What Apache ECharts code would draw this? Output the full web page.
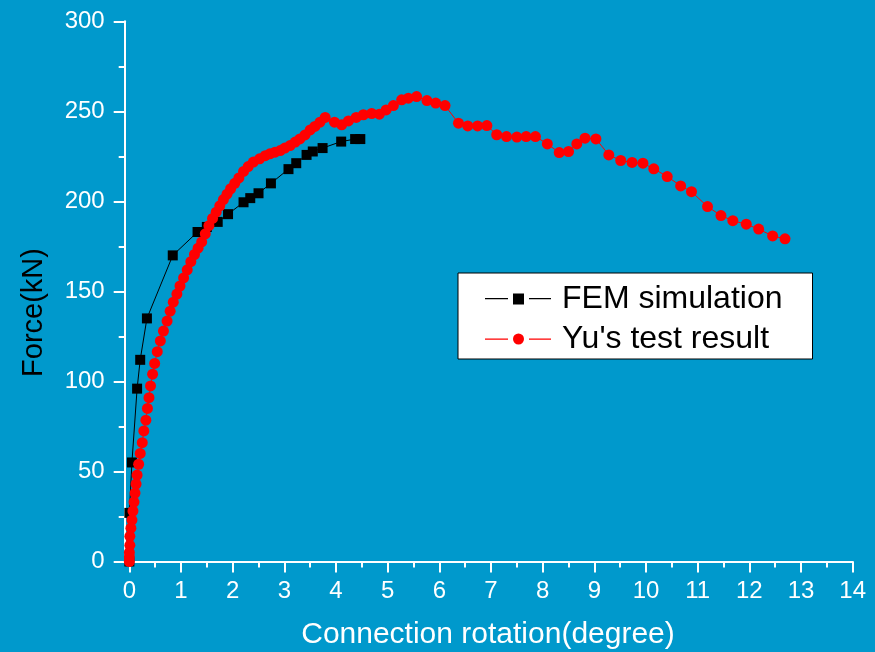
<!DOCTYPE html>
<html>
<head>
<meta charset="utf-8">
<script src="https://cdn.jsdelivr.net/npm/echarts@6/dist/echarts.min.js"></script>
<style>
  html, body { margin: 0; padding: 0; background: #0099cc; }
  #chart { width: 875px; height: 652px; }
</style>
</head>
<body>
<div id="chart"></div>
<script>
// Axis ticks
const xTickValues = [0, 1, 2, 3, 4, 5, 6, 7, 8, 9, 10, 11, 12, 13, 14];
const xMinorTickValues = [0.5, 1.5, 2.5, 3.5, 4.5, 5.5, 6.5, 7.5, 8.5, 9.5, 10.5, 11.5, 12.5, 13.5];

// FEM simulation: rotation (degree) and force (kN)
const femRotation = [0, 0, 0.05, 0.15, 0.21, 0.34, 0.84, 1.32, 1.5, 1.71, 1.91, 2.21, 2.34, 2.5, 2.74, 3.08, 3.23, 3.43, 3.55, 3.74, 4.1, 4.37, 4.47];
const femForce    = [0, 27, 55, 96, 112, 135, 170, 183, 185.8, 188.6, 192.9, 199.5, 201.8, 204.5, 210, 217.9, 221.2, 225.8, 227.7, 229.6, 233.2, 234.6, 234.6];

// Yu's test result: rotation (degree) and force (kN)
const testRotation = [
  0, 0, 0, 0.01, 0.01, 0.03, 0.05, 0.07, 0.09, 0.11, 0.13, 0.15, 0.18, 0.21, 0.25, 0.28, 0.32, 0.35, 0.38,
  0.41, 0.45, 0.49, 0.54, 0.6, 0.66, 0.73, 0.79, 0.85, 0.92, 0.98, 1.05, 1.12, 1.19, 1.26, 1.33, 1.4,
  1.47, 1.54, 1.61, 1.68, 1.75, 1.82, 1.89, 1.96, 2.04, 2.12, 2.21, 2.3, 2.4, 2.52, 2.63, 2.72, 2.82,
  2.92, 3.01, 3.11, 3.21, 3.3, 3.4, 3.5, 3.59, 3.69, 3.79, 3.97, 4.11, 4.24, 4.39, 4.53, 4.69, 4.84,
  4.97, 5.11, 5.27, 5.4, 5.56, 5.76, 5.93, 6.11, 6.37, 6.55, 6.74, 6.92, 7.11, 7.3, 7.5, 7.68, 7.86,
  8.09, 8.32, 8.5, 8.66, 8.82, 9.03, 9.28, 9.51, 9.73, 9.94, 10.15, 10.41, 10.67, 10.88, 11.19, 11.45,
  11.68, 11.94, 12.18, 12.45, 12.69
];
const testForce = [
  0, 2.5, 5, 9, 14, 18.5, 23, 28, 33, 38, 43, 48, 54, 60, 66, 72.5, 78.5, 85, 91,
  97.5, 104, 110, 116.5, 122.5, 128, 133.5, 139, 144, 148.5, 153, 157.5, 162, 166.5, 170.5, 174, 177.5,
  182, 186.5, 190.5, 194, 197.5, 201, 204, 207, 210, 213, 216.6, 219.3, 221.8, 223.6, 225.4, 226.4, 227.3,
  228.2, 229.6, 231, 232.9, 234.7, 236.9, 239.7, 241.6, 244, 246.6, 244, 242.5, 244.7, 246.6, 248.1, 248.8, 248.4,
  250.8, 253.2, 256.4, 257.3, 258.2, 256, 254.6, 253.2, 243.4, 241.9, 241.9, 242.1, 237, 236, 235.7, 236, 236,
  231.9, 227.1, 227.7, 231.9, 235.1, 234.7, 225.8, 222.7, 221.6, 221.2, 218.1, 213.8, 208.6, 205.4, 197.1, 192.1,
  189.3, 187.3, 184.6, 180.8, 179.2
];

const pairs = (xs, ys) => xs.map((x, i) => [x, ys[i]]);

// Legend icons: short line, marker, short line (with small gaps around the marker)
const squareIcon = 'path://M0,5h23v1.2h-23z M28,0.5h11v11h-11z M44,5h22v1.2h-22z';
const circleIcon = 'path://M0,5.5h23v1.2h-23z M39,6a5.5,5.5 0 1,0 -11,0a5.5,5.5 0 1,0 11,0z M44,5.5h22v1.2h-22z';

const FONT = '"Liberation Sans", Arial, sans-serif';
const chart = echarts.init(document.getElementById('chart'), null, { renderer: 'canvas' });

chart.setOption({
  animation: false,
  backgroundColor: '#0099cc',
  textStyle: { fontFamily: FONT },
  grid: { left: 124.7, right: 22.3, top: 21.3, bottom: 90.5, containLabel: false },
  xAxis: [
    {
      type: 'value',
      min: -0.09,
      max: 14,
      axisLine: { show: true, onZero: true, lineStyle: { color: '#ffffff', width: 2 } },
      axisTick: { show: true, customValues: xTickValues, length: 11, lineStyle: { color: '#ffffff', width: 2 } },
      axisLabel: { show: true, customValues: xTickValues, margin: 18, color: '#ffffff', fontSize: 24, fontFamily: FONT },
      splitLine: { show: false }
    },
    {
      type: 'value',
      position: 'bottom',
      min: -0.09,
      max: 14,
      axisLine: { show: false },
      axisTick: { show: true, customValues: xMinorTickValues, length: 6, lineStyle: { color: '#ffffff', width: 2 } },
      axisLabel: { show: false },
      splitLine: { show: false }
    }
  ],
  yAxis: {
    type: 'value',
    min: 0,
    max: 300,
    interval: 50,
    axisLine: { show: true, onZero: false, lineStyle: { color: '#ffffff', width: 2 } },
    axisTick: { show: true, length: 11, lineStyle: { color: '#ffffff', width: 2 } },
    minorTick: { show: true, splitNumber: 2, length: 6, lineStyle: { color: '#ffffff', width: 2 } },
    axisLabel: { margin: 20, color: '#ffffff', fontSize: 24, fontFamily: FONT },
    splitLine: { show: false },
    minorSplitLine: { show: false }
  },
  legend: {
    orient: 'vertical',
    left: 458,
    top: 273,
    padding: [10, 30, 4, 27],
    itemGap: 8,
    itemWidth: 66,
    itemHeight: 12,
    backgroundColor: '#ffffff',
    borderColor: '#000000',
    borderWidth: 1,
    itemStyle: { borderWidth: 0 },
    textStyle: { color: '#000000', fontSize: 32, fontFamily: FONT, padding: [0, 0, 0, 6] },
    data: [
      { name: 'FEM simulation', icon: squareIcon },
      { name: "Yu's test result", icon: circleIcon }
    ]
  },
  graphic: [
    {
      type: 'text',
      x: 34,
      y: 312.5,
      rotation: Math.PI / 2,
      style: { text: 'Force(kN)', fill: '#000000', font: '29px ' + FONT, align: 'center', verticalAlign: 'middle' }
    },
    {
      type: 'text',
      x: 488,
      y: 635,
      style: { text: 'Connection rotation(degree)', fill: '#ffffff', font: '30px ' + FONT, align: 'center', verticalAlign: 'middle' }
    }
  ],
  series: [
    {
      name: 'FEM simulation',
      type: 'line',
      xAxisIndex: 0,
      data: pairs(femRotation, femForce),
      symbol: 'rect',
      symbolSize: 10,
      itemStyle: { color: '#000000' },
      lineStyle: { color: '#000000', width: 1 },
      z: 2
    },
    {
      name: "Yu's test result",
      type: 'line',
      xAxisIndex: 0,
      data: pairs(testRotation, testForce),
      symbol: 'circle',
      symbolSize: 11,
      itemStyle: { color: '#ff0000' },
      lineStyle: { color: '#ff0000', width: 1 },
      z: 3
    }
  ]
});
</script>
</body>
</html>
